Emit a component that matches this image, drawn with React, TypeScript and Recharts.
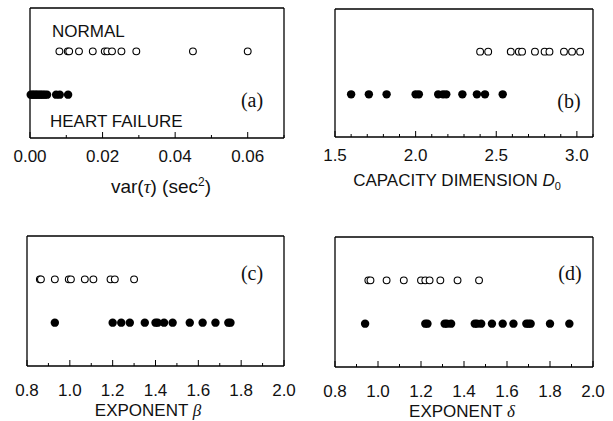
import React from "react";
import { ScatterChart, Scatter, XAxis, YAxis } from "recharts";

const W = 613;
const H = 421;

// (a) variance of the interbeat interval, sec^2
const varNormal = [0.0081, 0.0104, 0.0108, 0.0135, 0.0173, 0.0206, 0.0213, 0.0226, 0.0252, 0.0293, 0.0449, 0.06];
const varFailure = [0.0002, 0.0006, 0.001, 0.0014, 0.0018, 0.0022, 0.0027, 0.0031, 0.0036, 0.0041, 0.0047, 0.0072, 0.0082, 0.0105];
const varTicks = [0, 0.01, 0.02, 0.03, 0.04, 0.05, 0.06, 0.07];
const varLabels = [0, 0.02, 0.04, 0.06];

// (b) capacity dimension D0
const d0Normal = [2.4, 2.45, 2.59, 2.64, 2.66, 2.74, 2.8, 2.83, 2.92, 2.97, 3.02];
const d0Failure = [1.6, 1.71, 1.82, 2.0, 2.02, 2.14, 2.17, 2.19, 2.29, 2.38, 2.43, 2.54];
const d0Ticks = [1.5, 1.6, 1.7, 1.8, 1.9, 2.0, 2.1, 2.2, 2.3, 2.4, 2.5, 2.6, 2.7, 2.8, 2.9, 3.0, 3.1];
const d0Labels = [1.5, 2.0, 2.5, 3.0];

// (c) exponent beta
const betaNormal = [0.86, 0.865, 0.93, 0.995, 1.005, 1.07, 1.11, 1.19, 1.21, 1.3];
const betaFailure = [0.93, 1.2, 1.24, 1.28, 1.35, 1.4, 1.41, 1.44, 1.48, 1.56, 1.62, 1.68, 1.74, 1.75];

// (d) exponent delta
const deltaNormal = [0.955, 0.965, 1.04, 1.12, 1.2, 1.22, 1.24, 1.29, 1.37, 1.47];
const deltaFailure = [0.94, 1.22, 1.23, 1.31, 1.32, 1.34, 1.45, 1.46, 1.48, 1.53, 1.58, 1.63, 1.69, 1.7, 1.71, 1.8, 1.89];

const expTicks = [0.8, 0.9, 1.0, 1.1, 1.2, 1.3, 1.4, 1.5, 1.6, 1.7, 1.8, 1.9, 2.0];
const expLabels = [0.8, 1.0, 1.2, 1.4, 1.6, 1.8, 2.0];

// row of each group on the hidden y scale
const NORMAL_ROW = 2;
const FAILURE_ROW = 1;

const SANS = "'Liberation Sans', Arial, Helvetica, sans-serif";
const SERIF = "'Liberation Serif', 'Times New Roman', serif";
const axisStyle = { stroke: "#000", strokeWidth: 1.3 };

const openDot = (p: any) => (
  <circle cx={p.cx} cy={p.cy} r={3.4} fill="#fff" stroke="#000" strokeWidth={1.1} />
);
const filledDot = (p: any) => <circle cx={p.cx} cy={p.cy} r={4.2} fill="#000" />;

type Box = { left: number; top: number; right: number; bottom: number };

interface PanelProps {
  box: Box;
  domain: [number, number];
  ticks: number[];
  labels: number[];
  digits: number;
  labelGap: number;
  normal: number[];
  failure: number[];
}

// axes need a non-zero size to be drawn; each takes 1px from the margin
const AX = 1;

function Panel({ box, domain, ticks, labels, digits, labelGap, normal, failure }: PanelProps) {
  const isMajor = (v: number) => labels.some((l) => Math.abs(l - v) < 1e-9);
  const normalData = normal.map((x) => ({ x, y: NORMAL_ROW }));
  const failureData = failure.map((x) => ({ x, y: FAILURE_ROW }));

  const bottomTick = (p: any) => {
    const v = p.payload.value;
    const major = isMajor(v);
    return (
      <g>
        <line x1={p.x} x2={p.x} y1={p.y} y2={p.y - (major ? 6 : 3)} stroke="#000" strokeWidth={1} />
        {major && (
          <text x={p.x} y={p.y + labelGap} textAnchor="middle" fontSize={17} fontFamily={SANS} fill="#111">
            {v.toFixed(digits)}
          </text>
        )}
      </g>
    );
  };
  const topTick = (p: any) => {
    const major = isMajor(p.payload.value);
    return <line x1={p.x} x2={p.x} y1={p.y} y2={p.y + (major ? 6 : 3)} stroke="#000" strokeWidth={1} />;
  };
  const rightTick = (p: any) => <line x1={p.x} x2={p.x - 2} y1={p.y} y2={p.y} stroke="#000" strokeWidth={1} />;

  return (
    <div style={{ position: "absolute", left: 0, top: 0 }}>
      <ScatterChart
        width={W}
        height={H}
        margin={{
          top: box.top - AX,
          left: box.left - AX,
          right: W - box.right - AX,
          bottom: H - box.bottom - AX,
        }}
      >
        <XAxis
          xAxisId="b"
          type="number"
          dataKey="x"
          domain={domain}
          ticks={ticks}
          interval={0}
          height={AX}
          tickSize={0}
          tickMargin={0}
          tickLine={false}
          axisLine={axisStyle}
          tick={bottomTick}
        />
        <XAxis
          xAxisId="t"
          orientation="top"
          type="number"
          dataKey="x"
          domain={domain}
          ticks={ticks}
          interval={0}
          height={AX}
          tickSize={0}
          tickMargin={0}
          tickLine={false}
          axisLine={axisStyle}
          tick={topTick}
        />
        <YAxis
          yAxisId="l"
          type="number"
          dataKey="y"
          domain={[0, 3]}
          ticks={[FAILURE_ROW, NORMAL_ROW]}
          interval={0}
          width={AX}
          tickSize={0}
          tickMargin={0}
          tickLine={false}
          axisLine={axisStyle}
          tick={false}
        />
        <YAxis
          yAxisId="r"
          orientation="right"
          type="number"
          dataKey="y"
          domain={[0, 3]}
          ticks={[FAILURE_ROW, NORMAL_ROW]}
          interval={0}
          width={AX}
          tickSize={0}
          tickMargin={0}
          tickLine={false}
          axisLine={axisStyle}
          tick={rightTick}
        />
        <Scatter xAxisId="b" yAxisId="l" data={failureData} shape={filledDot} isAnimationActive={false} />
        <Scatter xAxisId="b" yAxisId="l" data={normalData} shape={openDot} isAnimationActive={false} />
      </ScatterChart>
    </div>
  );
}

const Txt = ({ x, y, size = 17, font = SANS, center = false, children }: any) => (
  <div
    style={{
      position: "absolute",
      left: x,
      top: y - size / 2,
      fontSize: size,
      lineHeight: `${size}px`,
      fontFamily: font,
      color: "#111",
      whiteSpace: "nowrap",
      transform: center ? "translateX(-50%)" : undefined,
    }}
  >
    {children}
  </div>
);

export default function App() {
  return (
    <div style={{ position: "absolute", left: 0, top: 0, width: W, height: H, background: "#fff", overflow: "hidden" }}>
      <Panel
        box={{ left: 30, top: 8, right: 284, bottom: 138 }}
        domain={[0, 0.07]}
        ticks={varTicks}
        labels={varLabels}
        digits={2}
        labelGap={24}
        normal={varNormal}
        failure={varFailure}
      />
      <Panel
        box={{ left: 335, top: 9, right: 593, bottom: 137 }}
        domain={[1.5, 3.1]}
        ticks={d0Ticks}
        labels={d0Labels}
        digits={1}
        labelGap={24}
        normal={d0Normal}
        failure={d0Failure}
      />
      <Panel
        box={{ left: 27, top: 236, right: 284, bottom: 366 }}
        domain={[0.8, 2.0]}
        ticks={expTicks}
        labels={expLabels}
        digits={1}
        labelGap={30}
        normal={betaNormal}
        failure={betaFailure}
      />
      <Panel
        box={{ left: 335, top: 237, right: 593, bottom: 367 }}
        domain={[0.8, 2.0]}
        ticks={expTicks}
        labels={expLabels}
        digits={1}
        labelGap={30}
        normal={deltaNormal}
        failure={deltaFailure}
      />

      <Txt x={52} y={31}>NORMAL</Txt>
      <Txt x={50} y={121}>HEART FAILURE</Txt>

      <Txt x={252} y={100} size={20} font={SERIF} center>(a)</Txt>
      <Txt x={569} y={101} size={20} font={SERIF} center>(b)</Txt>
      <Txt x={252} y={273} size={20} font={SERIF} center>(c)</Txt>
      <Txt x={570} y={273} size={20} font={SERIF} center>(d)</Txt>

      <Txt x={161} y={182} size={19} center>
        var(<span style={{ fontFamily: SERIF, fontStyle: "italic" }}>τ</span>) (sec<sup style={{ fontSize: 12, verticalAlign: "7px" }}>2</sup>)
      </Txt>
      <Txt x={457} y={180} center>
        CAPACITY DIMENSION <span style={{ fontStyle: "italic" }}>D</span>
        <sub style={{ fontSize: 11, verticalAlign: "-4px" }}>0</sub>
      </Txt>
      <Txt x={148} y={410} center>
        EXPONENT <span style={{ fontFamily: SERIF, fontStyle: "italic" }}>β</span>
      </Txt>
      <Txt x={462} y={411} center>
        EXPONENT <span style={{ fontFamily: SERIF, fontStyle: "italic" }}>δ</span>
      </Txt>
    </div>
  );
}
